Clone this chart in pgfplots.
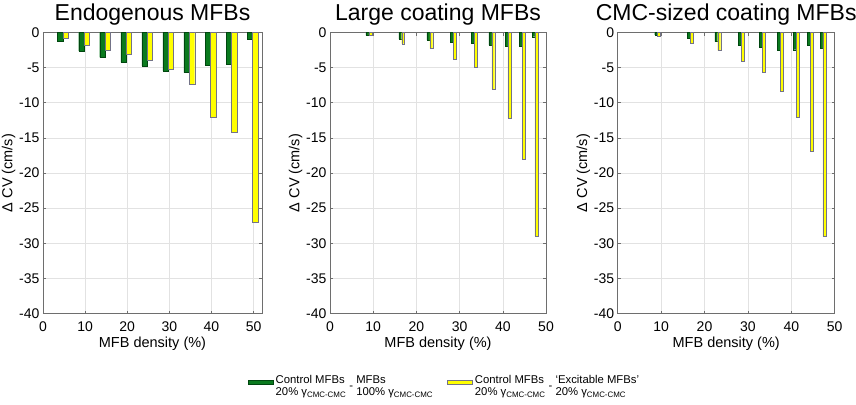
\documentclass[border=0pt]{standalone}
\usepackage{fontspec}
\setmainfont{Liberation Sans}
\usepackage{pgfplots}
\pgfplotsset{compat=1.18}
\definecolor{barG}{RGB}{10,122,30}
\definecolor{barGe}{RGB}{0,70,15}
\definecolor{barY}{RGB}{255,255,0}
\definecolor{barYe}{RGB}{115,115,135}
\definecolor{axc}{RGB}{110,110,110}
\definecolor{gridc}{RGB}{226,226,226}
\pgfplotsset{
  mfb/.style={
    scale only axis, height=281pt,
    ymin=-40, ymax=0, xmin=0,
    ytick={-40,-35,...,0}, xtick={0,10,...,50},
    grid=major, major grid style={gridc, line width=0.6pt},
    axis line style={axc, line width=0.8pt},
    tick style={axc, line width=0.6pt}, tick align=inside, major tick length=3pt,
    ticklabel style={font=\fontsize{14}{16}\selectfont},
    xticklabel style={yshift=-4.5pt},
    /pgf/number format/assume math mode=true,
    label style={font=\fontsize{14.5}{17}\selectfont},
    xlabel style={yshift=1pt},
    ylabel style={at={(axis description cs:0,0.5)}, anchor=south, yshift=24pt},
    title style={font=\fontsize{23}{26}\selectfont, yshift=-2pt},
    xlabel={MFB density (\%)}, ylabel={Δ CV (cm/s)},
  },
  gbar/.style={ybar, fill=barG, draw=barGe, line width=0.35pt, forget plot},
  ybarr/.style={ybar, fill=barY, draw=barYe, line width=0.35pt, forget plot},
  swatch/.style={legend image code/.code={\draw[##1] (0pt,-2.2pt) rectangle (25pt,2.2pt);}},
}
\begin{document}
\begin{tikzpicture}
\useasboundingbox (0,-404pt) rectangle (856pt,0);
% Panel 1
\begin{axis}[mfb, at={(43pt,-313.5pt)}, anchor=south west, width=219pt, xmax=52,
  title={Endogenous MFBs}]
\addplot[gbar, bar width=1.25, bar shift=-0.65] coordinates {
 (4.75,-1.25) (9.75,-2.65) (14.75,-3.55) (19.75,-4.25) (24.75,-4.75)
 (29.75,-5.45) (34.75,-5.7) (39.75,-4.7) (44.75,-4.55) (49.75,-0.95)};
\addplot[ybarr, bar width=1.25, bar shift=0.65] coordinates {
 (4.75,-0.76) (9.75,-1.75) (14.75,-2.55) (19.75,-3.15) (24.75,-4.0)
 (29.75,-5.28) (34.75,-7.35) (39.75,-12.05) (44.75,-14.15) (49.75,-27.0)};
\end{axis}
% Panel 2
\begin{axis}[mfb, at={(330pt,-313.5pt)}, anchor=south west, width=216pt, xmax=50,
  title={Large coating MFBs},
  legend style={at={(0.53,-0.246)}, anchor=center, draw=none, fill=none,
    legend columns=2, font=\fontsize{11.3}{12.8}\selectfont,
    /tikz/every even column/.append style={column sep=12pt},
    legend cell align=left}]
\addplot[gbar, bar width=0.68, bar shift=-0.34] coordinates {
 (9.0,-0.4) (16.6,-0.95) (23.1,-1.1) (28.55,-1.4) (33.35,-1.5)
 (37.45,-1.8) (41.2,-1.95) (44.45,-1.95) (47.45,-0.6)};
\addplot[ybarr, bar width=0.68, bar shift=0.34] coordinates {
 (9.0,-0.4) (16.6,-1.6) (23.1,-2.3) (28.55,-3.85) (33.35,-4.9)
 (37.45,-8.1) (41.2,-12.2) (44.45,-18.1) (47.45,-29.0)};
\addlegendimage{fill=barG, draw=barGe, line width=0.8pt, swatch}
\addlegendentry{\begin{tabular}{@{}l@{}}Control MFBs\\20\% γ\textsubscript{CMC-CMC}\end{tabular} - \begin{tabular}{@{}l@{}}MFBs\\100\% γ\textsubscript{CMC-CMC}\end{tabular}}
\addlegendimage{fill=barY, draw=barYe, line width=0.8pt, swatch}
\addlegendentry{\begin{tabular}{@{}l@{}}Control MFBs\\20\% γ\textsubscript{CMC-CMC}\end{tabular} - \begin{tabular}{@{}l@{}}‘Excitable MFBs’\\20\% γ\textsubscript{CMC-CMC}\end{tabular}}
\end{axis}
% Panel 3
\begin{axis}[mfb, at={(617.7pt,-313.5pt)}, anchor=south west, width=217pt, xmax=50,
  title={CMC-sized coating MFBs}]
\addplot[gbar, bar width=0.68, bar shift=-0.34] coordinates {
 (9.2,-0.35) (16.75,-0.8) (23.05,-1.3) (28.55,-1.85) (33.3,-2.15)
 (37.4,-2.5) (41.15,-2.45) (44.45,-1.75) (47.3,-2.2)};
\addplot[ybarr, bar width=0.68, bar shift=0.34] coordinates {
 (9.2,-0.55) (16.75,-1.5) (23.05,-2.55) (28.55,-4.1) (33.3,-5.7)
 (37.4,-8.4) (41.15,-12.05) (44.45,-16.95) (47.3,-29.05)};
\end{axis}
\end{tikzpicture}
\end{document}
